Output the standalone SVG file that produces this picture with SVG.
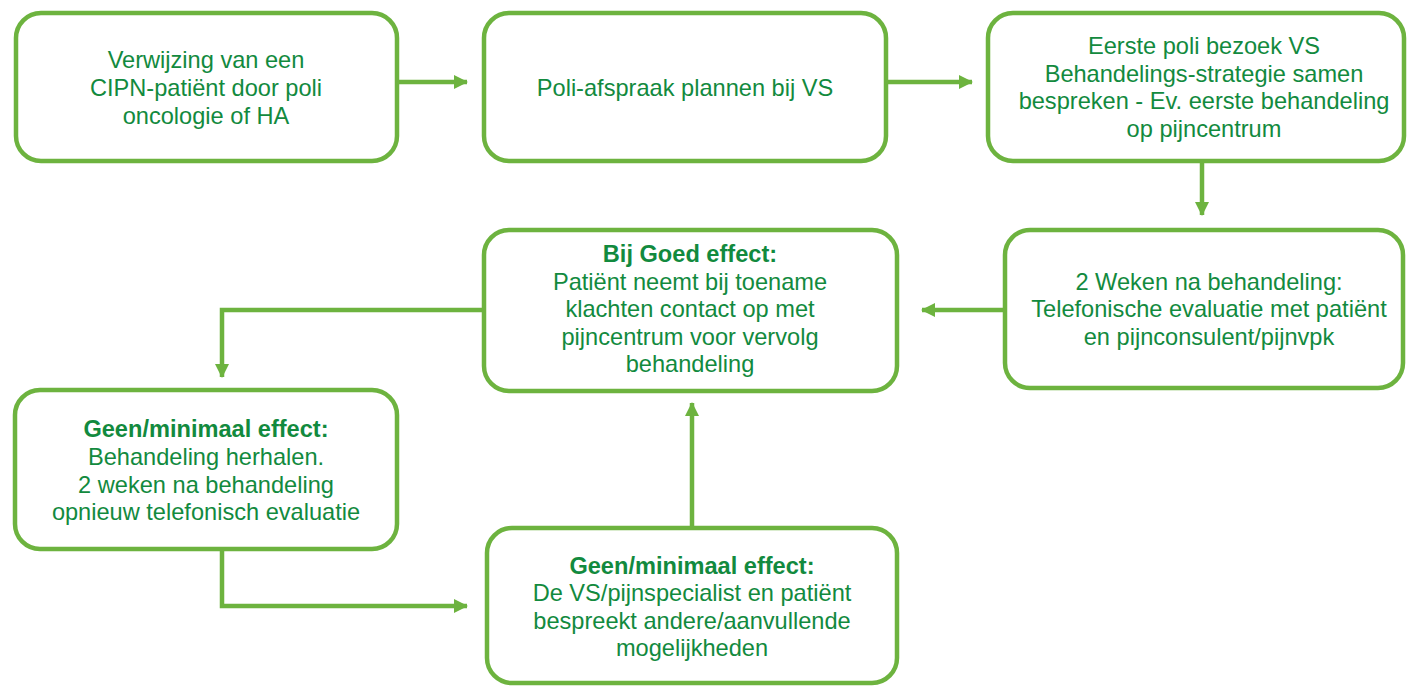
<svg xmlns="http://www.w3.org/2000/svg" width="1407" height="686" viewBox="0 0 1407 686">
<defs>
<marker id="ah" markerUnits="userSpaceOnUse" markerWidth="14" markerHeight="14" viewBox="0 0 14 14" refX="13" refY="7" orient="auto">
<path d="M0,0 L14,7 L0,14 Z" fill="#6db33f"/>
</marker>
<style>
.box{fill:#fff;stroke:#6db33f;stroke-width:4.5}
.t{font-family:"Liberation Sans",Arial,sans-serif;font-size:23.6px;fill:#128a3e;text-anchor:middle}
.b{font-weight:bold}
.c{fill:none;stroke:#6db33f;stroke-width:4.5}
</style>
</defs>
<rect width="1407" height="686" fill="#fff"/>
<g id="connectors">
<path class="c" d="M397,82 H467" marker-end="url(#ah)"/>
<path class="c" d="M886,82 H972" marker-end="url(#ah)"/>
<path class="c" d="M1202,161 V215" marker-end="url(#ah)"/>
<path class="c" d="M1005,310 H922" marker-end="url(#ah)"/>
<path class="c" d="M484,310 H222 V377" marker-end="url(#ah)"/>
<path class="c" d="M222,549 V606 H467" marker-end="url(#ah)"/>
<path class="c" d="M692,528 V403" marker-end="url(#ah)"/>
</g>
<g id="n1">
<rect class="box" x="16" y="13" width="381" height="148" rx="25"/>
<text class="t" x="206" y="68">Verwijzing van een</text>
<text class="t" x="206" y="96">CIPN-patiënt door poli</text>
<text class="t" x="206" y="124">oncologie of HA</text>
</g>
<g id="n2">
<rect class="box" x="484" y="13" width="402" height="148" rx="25"/>
<text class="t" x="685" y="96">Poli-afspraak plannen bij VS</text>
</g>
<g id="n3">
<rect class="box" x="988" y="13" width="416" height="148" rx="25"/>
<text class="t" x="1204" y="54">Eerste poli bezoek VS</text>
<text class="t" x="1204" y="82">Behandelings-strategie samen</text>
<text class="t" x="1204" y="109">bespreken - Ev. eerste behandeling</text>
<text class="t" x="1204" y="137">op pijncentrum</text>
</g>
<g id="n4">
<rect class="box" x="1005" y="230" width="398" height="158" rx="25"/>
<text class="t" x="1209" y="290">2 Weken na behandeling:</text>
<text class="t" x="1209" y="317">Telefonische evaluatie met patiënt</text>
<text class="t" x="1209" y="345">en pijnconsulent/pijnvpk</text>
</g>
<g id="n5">
<rect class="box" x="484" y="230" width="413" height="161" rx="25"/>
<text class="t b" x="690" y="262">Bij Goed effect:</text>
<text class="t" x="690" y="290">Patiënt neemt bij toename</text>
<text class="t" x="690" y="317">klachten contact op met</text>
<text class="t" x="690" y="345">pijncentrum voor vervolg</text>
<text class="t" x="690" y="372">behandeling</text>
</g>
<g id="n6">
<rect class="box" x="15" y="390" width="382" height="159" rx="25"/>
<text class="t b" x="206" y="437">Geen/minimaal effect:</text>
<text class="t" x="206" y="465">Behandeling herhalen.</text>
<text class="t" x="206" y="493">2 weken na behandeling</text>
<text class="t" x="206" y="520">opnieuw telefonisch evaluatie</text>
</g>
<g id="n7">
<rect class="box" x="487" y="528" width="410" height="155" rx="25"/>
<text class="t b" x="692" y="574">Geen/minimaal effect:</text>
<text class="t" x="692" y="601">De VS/pijnspecialist en patiënt</text>
<text class="t" x="692" y="629">bespreekt andere/aanvullende</text>
<text class="t" x="692" y="656">mogelijkheden</text>
</g>
</svg>
